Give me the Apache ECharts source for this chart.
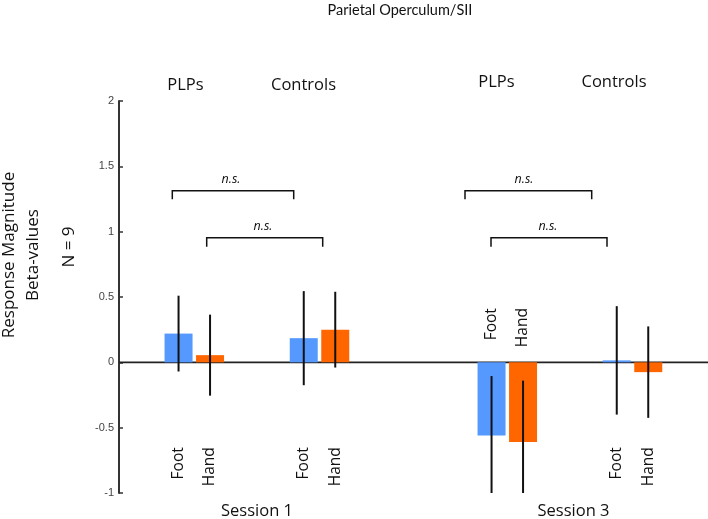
<!DOCTYPE html>
<html>
<head>
<meta charset="utf-8">
<script src="https://cdn.jsdelivr.net/npm/echarts@6/dist/echarts.min.js"></script>
<style>html,body{margin:0;padding:0;background:#fff}#c{width:708px;height:519px}</style>
</head>
<body>
<div id="c"></div>
<script>
// ---- data ----
const sessions = ['Session 1', 'Session 3'];
const groups = ['PLPs', 'Controls', 'PLPs', 'Controls'];
const conditions = ['Foot', 'Hand'];
const footMean = [0.22, 0.185, -0.56, 0.015];
const handMean = [0.055, 0.25, -0.61, -0.075];
const footErr = [0.29, 0.36, 0.455, 0.415];
const handErr = [0.31, 0.29, 0.47, 0.35];
const yTicks = [-1, -0.5, 0, 0.5, 1, 1.5, 2];

// ---- layout (not data) ----
const slotOf = [0, 2, 5, 7];
const nSlots = 8;
const labelAnchor = [-0.65, -0.65, 0.415, -0.65];
const barW = 28, barStep = 31.5;
const FONT = '"Open Sans", Lato, sans-serif';
const TFONT = 'Lato, "Open Sans", sans-serif';

const cats = Array.from({length: nSlots}, () => '');
function toSlots(arr) {
  const out = Array(nSlots).fill(null);
  arr.forEach((v, i) => { out[slotOf[i]] = v; });
  return out;
}
const errData = [];
groups.forEach((g, i) => {
  errData.push([slotOf[i], footMean[i], footErr[i], -1]);
  errData.push([slotOf[i], handMean[i], handErr[i], 1]);
});
const lblData = groups.map((g, i) => [slotOf[i], labelAnchor[i]]);

function txt(x, y, s, size, extra) {
  return Object.assign({type: 'text', x: x, y: y,
    style: {text: s, fontSize: size, fontFamily: FONT, fill: '#111', align: 'center', verticalAlign: 'middle'}}, extra || {});
}

const chart = echarts.init(document.getElementById('c'), null, {renderer: 'canvas'});
const option = {
  animation: false,
  grid: {left: 163, top: 101, width: nSlots * 62.6, height: 392, containLabel: false},
  xAxis: {
    type: 'category', data: cats,
    axisLine: {show: false}, axisTick: {show: false}, axisLabel: {show: false}, splitLine: {show: false}
  },
  yAxis: {
    type: 'value', min: yTicks[0], max: yTicks[yTicks.length - 1], interval: 0.5,
    offset: 44,
    axisLine: {show: true, onZero: false, lineStyle: {color: '#333', width: 2}},
    axisTick: {show: true, inside: true, length: 4, lineStyle: {color: '#333', width: 1.5}},
    axisLabel: {color: '#444', fontSize: 11, fontFamily: '"Liberation Sans", Arial, sans-serif', margin: 5},
    splitLine: {show: false}
  },
  series: [
    {
      type: 'custom', z: 1, clip: false, silent: true,
      data: [[0, 0]],
      renderItem: function (params, api) {
        const p = api.coord([0, 0]);
        const cs = params.coordSys;
        return {type: 'line', shape: {x1: cs.x - 44, y1: p[1], x2: api.getWidth(), y2: p[1]},
          style: {stroke: '#222', lineWidth: 1.6}};
      }
    },
    {
      name: conditions[0], type: 'bar', data: toSlots(footMean), barWidth: barW, barGap: ((barStep - barW) / barW * 100) + '%',
      itemStyle: {color: '#5599ff'}, z: 2
    },
    {
      name: conditions[1], type: 'bar', data: toSlots(handMean), barWidth: barW,
      itemStyle: {color: '#ff6600'}, z: 2
    },
    {
      type: 'custom', z: 5, clip: true, silent: true,
      data: errData,
      renderItem: function (params, api) {
        const slot = api.value(0), m = api.value(1), e = api.value(2), side = api.value(3);
        const top = api.coord([slot, m + e]);
        const bot = api.coord([slot, m - e]);
        const x = top[0] + side * barStep / 2;
        return {type: 'line', shape: {x1: x, y1: top[1], x2: x, y2: bot[1]},
          style: {stroke: '#111', lineWidth: 2}};
      }
    },
    {
      type: 'custom', z: 6, clip: false, silent: true,
      data: lblData,
      renderItem: function (params, api) {
        const p = api.coord([api.value(0), api.value(1)]);
        const kids = conditions.map((c, k) => ({
          type: 'text', x: p[0] + (k === 0 ? -1 : 1) * barStep / 2, y: p[1], rotation: Math.PI / 2,
          style: {text: c, fontSize: 15.5, fontFamily: FONT, fill: '#111', align: 'right', verticalAlign: 'middle'}
        }));
        return {type: 'group', children: kids};
      }
    }
  ],
  graphic: [
    {type: 'text', x: 400, y: 10, style: {text: 'Parietal Operculum/SII', fontSize: 14.5, fontFamily: TFONT, fill: '#111', align: 'center', verticalAlign: 'middle'}},
    txt(185.5, 85, groups[0], 16.5),
    txt(303.5, 85, groups[1], 16.5),
    txt(496.5, 82, groups[2], 16.5),
    txt(614, 82, groups[3], 16.5),
    txt(257, 511, sessions[0], 16.5),
    txt(573.5, 511, sessions[1], 16.5),
    txt(9, 255, 'Response Magnitude', 17, {rotation: Math.PI / 2}),
    txt(33, 255, 'Beta-values', 17, {rotation: Math.PI / 2}),
    txt(69, 247, 'N = 9', 17, {rotation: Math.PI / 2}),
    {type: 'polyline', shape: {points: [[172.3, 199.3], [172.3, 190.7], [293.7, 190.7], [293.7, 199.3]]}, style: {stroke: '#111', lineWidth: 1.5, fill: null}},
    {type: 'polyline', shape: {points: [[206.7, 246.7], [206.7, 237.7], [322.7, 237.7], [322.7, 246.7]]}, style: {stroke: '#111', lineWidth: 1.5, fill: null}},
    {type: 'polyline', shape: {points: [[465, 199.3], [465, 190.7], [591.7, 190.7], [591.7, 199.3]]}, style: {stroke: '#111', lineWidth: 1.5, fill: null}},
    {type: 'polyline', shape: {points: [[491, 246.7], [491, 237.7], [607, 237.7], [607, 246.7]]}, style: {stroke: '#111', lineWidth: 1.5, fill: null}},
    txt(231, 179, 'n.s.', 12.5, {style: {text: 'n.s.', fontSize: 12.5, fontStyle: 'italic', fontFamily: FONT, fill: '#111', align: 'center', verticalAlign: 'middle'}}),
    txt(263, 226.5, 'n.s.', 12.5, {style: {text: 'n.s.', fontSize: 12.5, fontStyle: 'italic', fontFamily: FONT, fill: '#111', align: 'center', verticalAlign: 'middle'}}),
    txt(524, 179, 'n.s.', 12.5, {style: {text: 'n.s.', fontSize: 12.5, fontStyle: 'italic', fontFamily: FONT, fill: '#111', align: 'center', verticalAlign: 'middle'}}),
    txt(548, 226.5, 'n.s.', 12.5, {style: {text: 'n.s.', fontSize: 12.5, fontStyle: 'italic', fontFamily: FONT, fill: '#111', align: 'center', verticalAlign: 'middle'}})
  ]
};
chart.setOption(option);
</script>
</body>
</html>
